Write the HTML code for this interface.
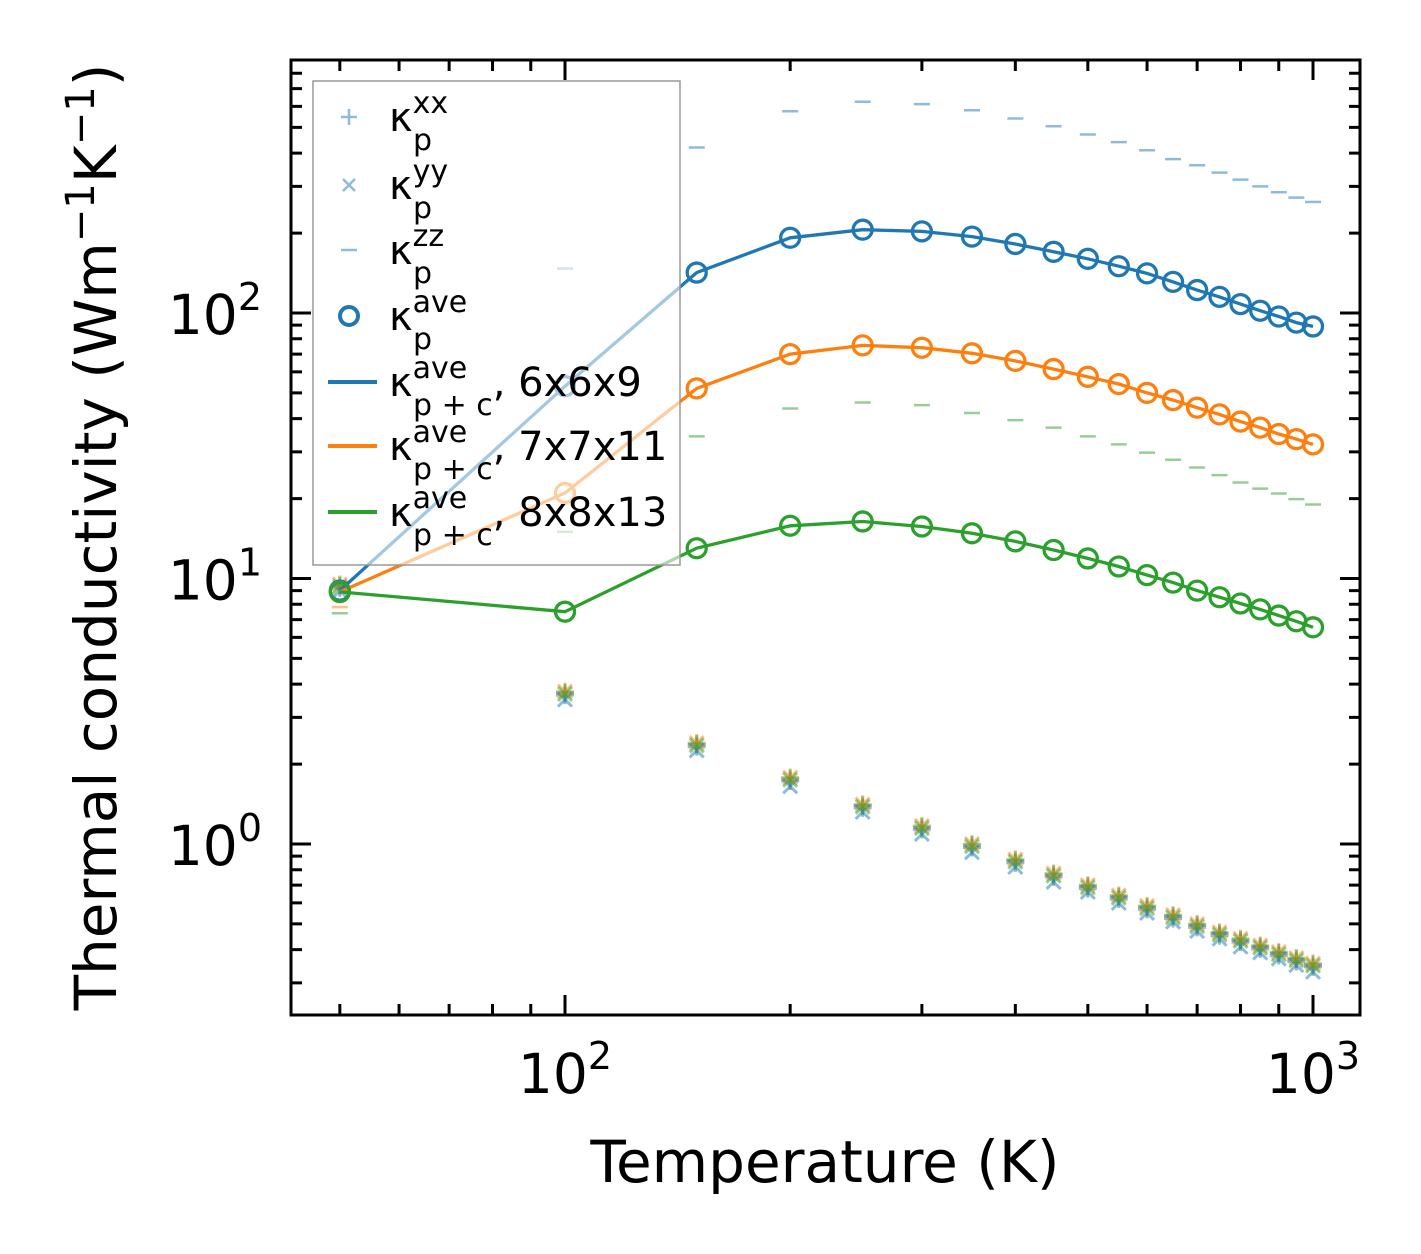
<!DOCTYPE html>
<html><head><meta charset="utf-8"><style>
html,body{margin:0;padding:0;background:#fff}
svg{display:block;font-family:"DejaVu Sans","Liberation Sans",sans-serif}
</style></head><body>
<svg id="chart" width="1421" height="1254" viewBox="0 0 1421 1254" xmlns="http://www.w3.org/2000/svg">
<g id="marks"></g>
<g id="axes"></g>
<g id="legend"></g>
</svg>
<script>
const temps=[50,100,150,200,250,300,350,400,450,500,550,600,650,700,750,800,850,900,950,1000];
const aveBlue=[9,53,142,192,206,203,194,182,170,160,150,141,131,122,115,108,102,97,92,89];
const aveOrange=[8.9,21,52,70,75.5,74,70.5,66,61.5,57.5,54,50,47,44,41.5,39,37,35,33.5,32];
const aveGreen=[8.9,7.5,13,15.8,16.4,15.7,14.8,13.8,12.8,11.9,11.1,10.3,9.65,9.0,8.5,8.05,7.65,7.25,6.9,6.55];
const xxBase=[9.5,3.75,2.4,1.78,1.41,1.17,1.0,0.875,0.775,0.70,0.64,0.585,0.54,0.50,0.465,0.44,0.415,0.392,0.372,0.355];
const yyBlue=[9.0,3.5,2.25,1.65,1.32,1.09,0.93,0.82,0.72,0.66,0.60,0.55,0.51,0.47,0.44,0.41,0.39,0.37,0.35,0.33];
const zzBlue=[null,147,420,575,625,612,580,540,505,470,440,410,380,360,338,318,300,285,272,262];
const zzGreen=[7.4,15,34.3,43.7,46,45,42,39.5,37,34.3,32,29.8,28,26.2,24.5,23,21.8,20.9,19.9,19];
const zzOrange=[7.8];
const xTicks=[100,1000];const xTickLabels=["2","3"];
const yTicks=[1,10,100];const yTickLabels=["0","1","2"];

const L=291,R=1360,T=60,B=1015;
const X=v=>565+(Math.log10(v)-2)*748;
const Y=v=>844-Math.log10(v)*265.5;
const NS="http://www.w3.org/2000/svg";
function mk(parent,tag,attrs){const e=document.createElementNS(NS,tag);for(const k in attrs)e.setAttribute(k,attrs[k]);parent.appendChild(e);return e;}
const C={b:"#1f77b4",o:"#ff7f0e",g:"#2ca02c"};
const marks=document.getElementById('marks');
const defs=mk(document.getElementById('chart'),'defs',{});
const cp=mk(defs,'clipPath',{id:'clip'});mk(cp,'rect',{x:L,y:T,width:R-L,height:B-T});
marks.setAttribute('clip-path','url(#clip)');
function plus(x,y,c,n){const g=mk(marks,'path',{d:`M${x-9} ${y}H${x+9}M${x} ${y-9}V${y+9}`,stroke:c,'stroke-width':3,'stroke-opacity':0.5,fill:'none'});}
function cross(x,y,c,n){const g=mk(marks,'path',{d:`M${x-7} ${y-7}L${x+7} ${y+7}M${x-7} ${y+7}L${x+7} ${y-7}`,stroke:c,'stroke-width':3,'stroke-opacity':0.5,fill:'none'});}
function dash(x,y,c,n){const g=mk(marks,'path',{d:`M${x-8} ${y}H${x+8}`,stroke:c,'stroke-width':2.5,'stroke-opacity':0.5});}
temps.forEach((t,i)=>{
  const x=X(t);
  [['b',xxBase[i]*0.97],['o',xxBase[i]],['g',xxBase[i]*0.99]].forEach(([k,v])=>plus(x,Y(v),C[k],'kxx-point'));
  cross(x,Y(yyBlue[i]),C.b,'kyy-point');
  cross(x,Y(xxBase[i]),C.o,'kyy-point');
  cross(x,Y(xxBase[i]*0.98),C.g,'kyy-point');
  if(zzBlue[i]!=null)dash(x,Y(zzBlue[i]),C.b,'kzz-point');
  dash(x,Y(zzGreen[i]),C.g,'kzz-point');
});
zzOrange.forEach((v,i)=>dash(X(temps[i]),Y(v),C.o,'kzz-point'));
function series(arr,c,n){
  const d=arr.map((v,i)=>(i?'L':'M')+X(temps[i]).toFixed(1)+' '+Y(v).toFixed(1)).join('');
  const p=mk(marks,'path',{d,stroke:c,'stroke-width':3.3,fill:'none'});
  
  arr.forEach((v,i)=>{const e=mk(marks,'circle',{cx:X(temps[i]),cy:Y(v),r:9.5,stroke:c,'stroke-width':3.3,fill:'none'});
    });
}
series(aveBlue,C.b,'ave-6x6x9');series(aveOrange,C.o,'ave-7x7x11');series(aveGreen,C.g,'ave-8x8x13');

const ax=document.getElementById('axes');
const fr=mk(ax,'rect',{x:L,y:T,width:R-L,height:B-T,fill:'none',stroke:'#000','stroke-width':3});

let tp='';
for(let d=1;d<4;d++)for(let m=1;m<10;m++){const v=m*Math.pow(10,d);const x=X(v);if(x<L||x>R)continue;const len=m===1?20:11;tp+=`M${x} ${B}v${-len}M${x} ${T}v${len}`;}
for(let d=-1;d<3;d++)for(let m=1;m<10;m++){const v=m*Math.pow(10,d);const y=Y(v);if(y<T||y>B)continue;const len=m===1?20:11;tp+=`M${L} ${y}h${len}M${R} ${y}h${-len}`;}
const tk=mk(ax,'path',{d:tp,stroke:'#000','stroke-width':3});
xTicks.forEach((v,i)=>{const t=mk(ax,'text',{x:X(v),y:1093,'text-anchor':'middle','font-size':55});
  
  t.innerHTML=`10<tspan dy="-24" font-size="38">${xTickLabels[i]}</tspan>`;});
yTicks.forEach((v,i)=>{const t=mk(ax,'text',{x:262,y:Y(v)+21,'text-anchor':'end','font-size':55});
  
  t.innerHTML=`10<tspan dy="-24" font-size="38">${yTickLabels[i]}</tspan>`;});
const xt=mk(ax,'text',{x:825,y:1182,'text-anchor':'middle','font-size':58});
xt.textContent='Temperature (K)';
const yt=mk(ax,'text',{x:0,y:0,'text-anchor':'middle','font-size':58,transform:'translate(116,537) rotate(-90)'});

yt.innerHTML='Thermal conductivity (Wm<tspan dy="-22" font-size="40">−1</tspan><tspan dy="22">K</tspan><tspan dy="-22" font-size="40">−1</tspan><tspan dy="22">)</tspan>';

const lg=document.getElementById('legend');
const lb=mk(lg,'rect',{x:313,y:81,width:367,height:484,fill:'#fff','fill-opacity':0.6,stroke:'#999','stroke-width':1.5});

const rows=[117,185,250,316,382,446,512];
const sups=['xx','yy','zz','ave','ave','ave','ave'];
const subs=['p','p','p','p','p + c','p + c','p + c'];
const tails=['','','','',', 6x6x9',', 7x7x11',', 8x8x13'];
rows.forEach((y,i)=>{
  const g=mk(lg,'g',{});
  const mx=349;
  if(i===0)mk(g,'path',{d:`M${mx-8} ${y}H${mx+8}M${mx} ${y-8}V${y+8}`,stroke:C.b,'stroke-width':2.5,'stroke-opacity':0.5});
  if(i===1)mk(g,'path',{d:`M${mx-6} ${y-6}L${mx+6} ${y+6}M${mx-6} ${y+6}L${mx+6} ${y-6}`,stroke:C.b,'stroke-width':2.5,'stroke-opacity':0.5});
  if(i===2)mk(g,'path',{d:`M${mx-8} ${y}H${mx+8}`,stroke:C.b,'stroke-width':2.5,'stroke-opacity':0.5});
  if(i===3)mk(g,'circle',{cx:mx,cy:y,r:9,stroke:C.b,'stroke-width':4,fill:'none'});
  if(i>=4)mk(g,'path',{d:`M328 ${y}H377`,stroke:[C.b,C.o,C.g][i-4],'stroke-width':4});
  const t=mk(g,'text',{x:389,y:y+14,'font-size':40});
  t.innerHTML=`κ<tspan dy="-18" font-size="30">${sups[i]}</tspan><tspan x="389" dx="24" dy="37" font-size="30">${subs[i]}</tspan><tspan dy="-19" font-size="40">${tails[i]}</tspan>`;
});
</script>
</body></html>
